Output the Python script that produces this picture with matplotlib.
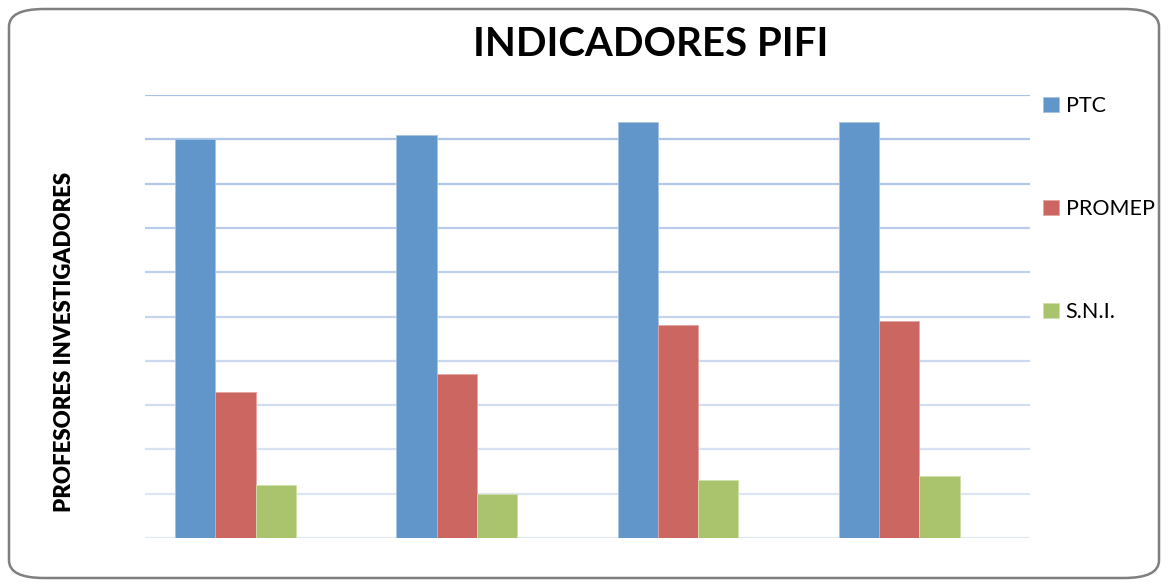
import numpy as np
import matplotlib
matplotlib.use('Agg')
import matplotlib.pyplot as plt
from matplotlib.patches import FancyBboxPatch
from matplotlib.colors import to_rgb

categorias = ['1', '2', '3', '4']
series = ['PTC', 'PROMEP', 'S.N.I.']
ptc = [90, 91, 94, 94]
promep = [33, 37, 48, 49]
sni = [12, 10, 13, 14]

colores = ['#6096c9', '#cc6661', '#aac36d']
bordes = ['#a9c4e4', '#e3a5a2', '#cfe0a8']

plt.rcParams['font.family'] = ['Lato', 'DejaVu Sans']

W, H = 1168, 587
fig = plt.figure(figsize=(W / 100, H / 100), dpi=100)

# marco redondeado
marco = FancyBboxPatch((9 / W, 9 / H), (1159 - 9) / W, (578 - 9) / H,
                       boxstyle="round,pad=0,rounding_size=0.03",
                       transform=fig.transFigure, fill=False,
                       edgecolor='#7f7f7f', linewidth=1.8)
fig.patches.append(marco)

ax = fig.add_axes([145 / W, 49 / H, (1030 - 145) / W, (538 - 95) / H])

x = np.arange(len(categorias))
ancho = 1 / 5.5  # 4 ranuras por grupo, la ultima vacia
for k, (nombre, valores) in enumerate(zip(series, [ptc, promep, sni])):
    ax.bar(x + (k - 1.5) * ancho, valores, ancho, color=colores[k],
           edgecolor=bordes[k], linewidth=0.6, label=nombre, zorder=3)

ax.set_xlim(-0.5, len(categorias) - 0.5)
ax.set_ylim(0, 100)
ax.set_yticks(np.arange(0, 101, 10))
ax.set_xticks([])
ax.tick_params(axis='y', length=0, labelleft=False)
for s in ax.spines.values():
    s.set_visible(False)
ax.grid(axis='y', linewidth=1.6, zorder=0)
ax.set_axisbelow(True)
c_arriba = np.array(to_rgb('#a8c0e8'))
c_abajo = np.array(to_rgb('#e2e9f5'))
lineas = ax.get_ygridlines()
for i, ln in enumerate(lineas):
    t = i / (len(lineas) - 1)
    ln.set_color(tuple(c_abajo * (1 - t) + c_arriba * t))

fig.text(651 / W, 1 - 45 / H, 'INDICADORES PIFI', ha='center', va='center',
         fontsize=29, fontweight='bold')
fig.text(65 / W, 1 - 342 / H, 'PROFESORES INVESTIGADORES', ha='center',
         va='center', rotation=90, fontsize=16, fontweight='heavy')

fig.legend(loc='upper left', bbox_to_anchor=(1043 / W, 1 - 96 / H),
           frameon=False, fontsize=15.5, handlelength=0.72, handleheight=0.72,
           handletextpad=0.33, labelspacing=3.85, borderpad=0, borderaxespad=0)

fig.savefig('out.png', dpi=100)
